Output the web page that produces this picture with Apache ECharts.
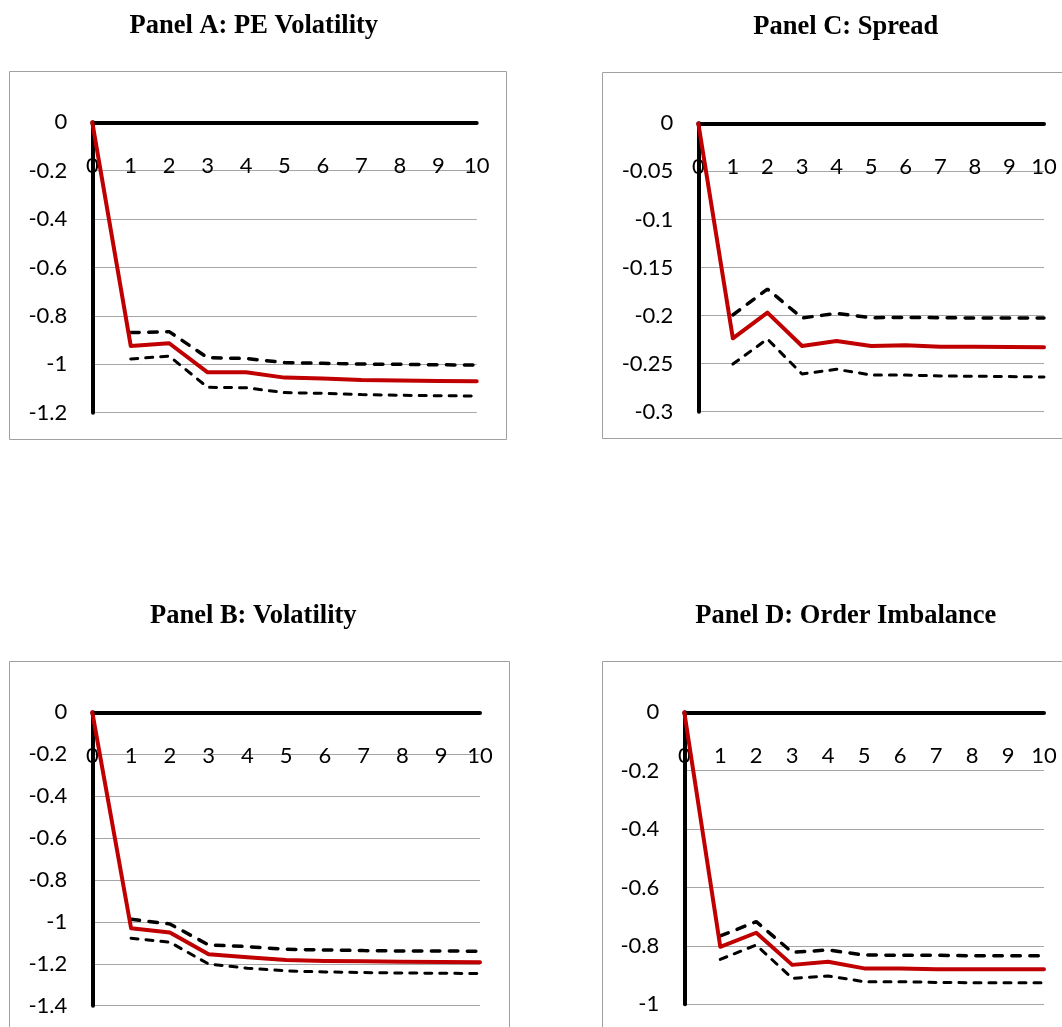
<!DOCTYPE html>
<html>
<head>
<meta charset="utf-8">
<script src="https://cdn.jsdelivr.net/npm/echarts@6/dist/echarts.min.js"></script>
<style>
html,body{margin:0;padding:0;background:#fff;}
#chart{width:1062px;height:1027px;}
</style>
</head>
<body>
<div id="chart"></div>
<script>
// ---- data ----
const periods = ['0','1','2','3','4','5','6','7','8','9','10'];

const titles = ['Panel A: PE Volatility','Panel C: Spread','Panel B: Volatility','Panel D: Order Imbalance'];

const ticksA = [0,-0.2,-0.4,-0.6,-0.8,-1,-1.2];
const ticksC = [0,-0.05,-0.1,-0.15,-0.2,-0.25,-0.3];
const ticksB = [0,-0.2,-0.4,-0.6,-0.8,-1,-1.2,-1.4];
const ticksD = [0,-0.2,-0.4,-0.6,-0.8,-1];

const irfA   = [0,-0.924,-0.913,-1.033,-1.033,-1.055,-1.059,-1.065,-1.067,-1.069,-1.070];
const upperA = [null,-0.869,-0.865,-0.973,-0.976,-0.993,-0.996,-0.999,-1.000,-1.002,-1.003];
const lowerA = [null,-0.978,-0.966,-1.095,-1.097,-1.117,-1.120,-1.125,-1.128,-1.130,-1.131];

const irfC   = [0,-0.2237,-0.197,-0.2317,-0.2265,-0.2317,-0.231,-0.2324,-0.2324,-0.2328,-0.233];
const upperC = [null,-0.1994,-0.1724,-0.2025,-0.1977,-0.2022,-0.2019,-0.2022,-0.2025,-0.2025,-0.2025];
const lowerC = [null,-0.2504,-0.2244,-0.2608,-0.2559,-0.2618,-0.2618,-0.2629,-0.2631,-0.2635,-0.2639];

const irfB   = [0,-1.0305,-1.051,-1.155,-1.169,-1.182,-1.187,-1.188,-1.190,-1.191,-1.193];
const upperB = [null,-0.988,-1.010,-1.110,-1.118,-1.131,-1.134,-1.137,-1.139,-1.139,-1.140];
const lowerB = [null,-1.078,-1.097,-1.201,-1.221,-1.234,-1.239,-1.242,-1.244,-1.245,-1.247];

const irfD   = [0,-0.803,-0.755,-0.865,-0.854,-0.877,-0.877,-0.880,-0.880,-0.880,-0.880];
const upperD = [null,-0.766,-0.717,-0.822,-0.814,-0.831,-0.832,-0.832,-0.834,-0.834,-0.834];
const lowerD = [null,-0.846,-0.797,-0.911,-0.903,-0.9225,-0.9225,-0.925,-0.926,-0.926,-0.926];

// ---- layout / styles ----
const panels = [
  {ticks: ticksA, irf: irfA, up: upperA, lo: lowerA, grid:{left:92.3, top:122.3, width:384.4, height:290.4}, box:[9.5,71.5,497,368], title:[253.8,26]},
  {ticks: ticksC, irf: irfC, up: upperC, lo: lowerC, grid:{left:698.3, top:123.3, width:345.7, height:288.4}, box:[602.5,72.5,480,366], title:[845.8,27]},
  {ticks: ticksB, irf: irfB, up: upperB, lo: lowerB, grid:{left:92.3, top:712.3, width:387.7, height:293.4}, box:[9.5,661.5,500,400], title:[253.3,616]},
  {ticks: ticksD, irf: irfD, up: upperD, lo: lowerD, grid:{left:684.3, top:712.3, width:359.7, height:292.0}, box:[602.5,661.5,480,400], title:[845.8,616]}
];

const labelFont = {fontFamily:'Lato', fontSize:22, color:'#000'};
const grids = [], xAxes = [], yAxes = [], series = [], graphics = [];

panels.forEach((p, i) => {
  grids.push(Object.assign({containLabel:false}, p.grid));
  xAxes.push({
    type:'category', gridIndex:i, data:periods, boundaryGap:false,
    position:'top',
    axisLine:{show:true, onZero:false, lineStyle:{color:'#000', width:4}},
    axisTick:{show:false},
    axisLabel:Object.assign({inside:true, margin:33, interval:0}, labelFont),
    splitLine:{show:false}
  });
  const step = +(p.ticks[0]-p.ticks[1]).toFixed(4);
  yAxes.push({
    type:'value', gridIndex:i,
    min: Math.min(...p.ticks), max: Math.max(...p.ticks), interval: step,
    axisLine:{show:true, onZero:false, lineStyle:{color:'#000', width:4}},
    axisTick:{show:false},
    axisLabel:Object.assign({margin:25, formatter:v => String(+v.toFixed(2))}, labelFont),
    splitLine:{show:true, lineStyle:{color:'#a6a6a6', width:1}}
  });
  series.push({
    type:'line', xAxisIndex:i, yAxisIndex:i, data:p.up, showSymbol:false, symbol:'none',
    lineStyle:{color:'#000', width:3.5, type:[8.5,9.5], cap:'round'}, z:3
  });
  series.push({
    type:'line', xAxisIndex:i, yAxisIndex:i, data:p.lo, showSymbol:false, symbol:'none',
    lineStyle:{color:'#000', width:3, type:[7,8], cap:'round'}, z:3
  });
  series.push({
    type:'line', xAxisIndex:i, yAxisIndex:i, data:p.irf, showSymbol:false, symbol:'none',
    lineStyle:{color:'#c00000', width:4, cap:'round', join:'round'}, z:4
  });
  graphics.push({
    type:'rect', z:-10, silent:true,
    shape:{x:p.box[0], y:p.box[1], width:p.box[2], height:p.box[3]},
    style:{fill:'none', stroke:'#a0a0a0', lineWidth:1}
  });
  graphics.push({
    type:'text', silent:true, x:p.title[0], y:p.title[1],
    style:{text:titles[i], font:'bold 26.5px "Liberation Serif", "Times New Roman", serif', fill:'#000', align:'center', verticalAlign:'middle'}
  });
});

const chart = echarts.init(document.getElementById('chart'), null, {renderer:'canvas'});
chart.setOption({
  animation:false,
  backgroundColor:'#fff',
  grid:grids, xAxis:xAxes, yAxis:yAxes, series:series, graphic:graphics
});
</script>
</body>
</html>
